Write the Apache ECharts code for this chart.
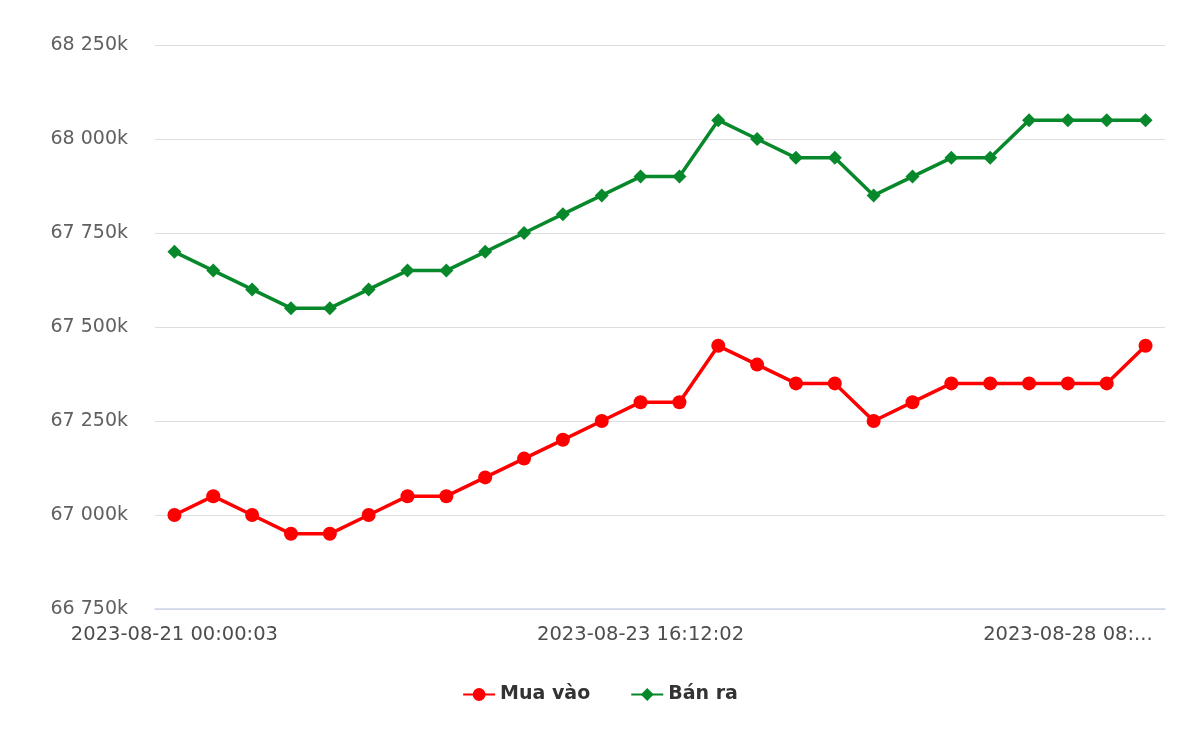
<!DOCTYPE html>
<html><head><meta charset="utf-8">
<script src="https://cdn.jsdelivr.net/npm/echarts@6/dist/echarts.min.js"></script>
<style>html,body{margin:0;padding:0;background:#fff}#c{width:1200px;height:739px}</style>
</head><body><div id="c"></div>
<script>
const categories = ['2023-08-21 00:00:03','','','','','','','','','','','','2023-08-23 16:12:02','','','','','','','','','','','2023-08-28 08:...','',''];
const shownLabelIndexes = [0, 12, 23];
const muaVao = [67000,67050,67000,66950,66950,67000,67050,67050,67100,67150,67200,67250,67300,67300,67450,67400,67350,67350,67250,67300,67350,67350,67350,67350,67350,67450];
const banRa = [67700,67650,67600,67550,67550,67600,67650,67650,67700,67750,67800,67850,67900,67900,68050,68000,67950,67950,67850,67900,67950,67950,68050,68050,68050,68050];
const yMin = 66750, yMax = 68250, yStep = 250;

function fmtK(v){
  return String(Math.round(v)).replace(/\B(?=(\d{3})+(?!\d))/g, ' ') + 'k';
}
const chart = echarts.init(document.getElementById('c'));
chart.setOption({
  animation:false,
  grid:{left:155,right:35,top:45,bottom:130},
  xAxis:{type:'category',data:categories,boundaryGap:true,
    axisLine:{lineStyle:{color:'#ccd6eb',width:1.5}},
    axisTick:{show:false},
    axisLabel:{interval:(i)=>shownLabelIndexes.indexOf(i)>=0,color:'#4d4d4d',fontFamily:'DejaVu Sans',fontSize:19.5,margin:16}
  },
  yAxis:{type:'value',min:yMin,max:yMax,interval:yStep,
    axisLine:{show:false},axisTick:{show:false},
    splitLine:{lineStyle:{color:'#dedede',width:1.2}},
    axisLabel:{formatter:fmtK,color:'#606060',fontFamily:'DejaVu Sans',fontSize:19,margin:27}
  },
  legend:{bottom:30,left:'center',itemGap:40,itemWidth:32,itemHeight:16,
    textStyle:{color:'#333',fontFamily:'DejaVu Sans',fontSize:19,fontWeight:'bold'},
    data:['Mua vào','Bán ra']},
  series:[
    {name:'Mua vào',type:'line',data:muaVao,color:'#ff0000',symbol:'circle',symbolSize:14,
      lineStyle:{width:3.5},itemStyle:{color:'#ff0000'}},
    {name:'Bán ra',type:'line',data:banRa,color:'#07882b',symbol:'diamond',symbolSize:14,
      lineStyle:{width:3.5},itemStyle:{color:'#07882b'}}
  ]
});
</script></body></html>
